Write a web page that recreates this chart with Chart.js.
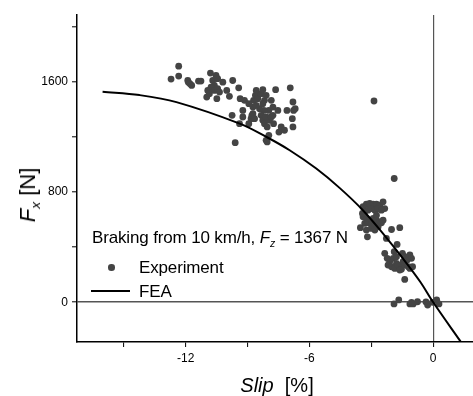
<!DOCTYPE html>
<html><head><meta charset="utf-8">
<script src="https://cdn.jsdelivr.net/npm/chart.js@4.4.1/dist/chart.umd.min.js"></script>
<style>
html,body{margin:0;padding:0;background:#fff;}
#wrap{position:relative;width:473px;height:396px;font-family:"Liberation Sans",Arial,sans-serif;overflow:hidden;}
canvas{position:absolute;left:0;top:0;}
.t{position:absolute;white-space:nowrap;color:#000;line-height:1;}
.sub{font-size:0.62em;position:relative;top:0.4em;font-style:italic;}
</style></head><body>
<div id="wrap">
<canvas id="c" width="473" height="396"></canvas>
<div class="t" style="left:92px;top:229px;font-size:17px;letter-spacing:-0.15px;">Braking from 10 km/h, <i>F</i><span class="sub">z</span> = 1367 N</div>
<div style="position:absolute;left:108px;top:264px;width:6.6px;height:6.6px;border-radius:50%;background:#444;"></div>
<div class="t" style="left:139px;top:259px;font-size:17px;letter-spacing:-0.15px;">Experiment</div>
<div style="position:absolute;left:91px;top:290px;width:39px;height:2px;background:#000;"></div>
<div class="t" style="left:139px;top:283px;font-size:17px;letter-spacing:-0.15px;">FEA</div>
<div class="t" style="left:277px;top:385px;font-size:20px;transform:translate(-50%,-50%);"><i>Slip</i>&nbsp; [%]</div>
<div class="t" style="left:28px;top:195px;font-size:22px;transform:translate(-50%,-50%) rotate(-90deg);"><i>F</i><span class="sub">x</span>&nbsp;[N]</div>
</div>
<script>
// Experiment data: slip [%] and Fx [N]
const expSlip = [
 -12.71,-12.34,-12.34,-11.90,-11.87,-11.79,-11.71,-11.38,-11.26,-10.80,
 -10.69,-10.53,-10.45,-10.61,-10.77,-10.93,-10.98,-10.85,-10.61,-10.45,
 -10.36,-10.49,-10.20,-10.01,-9.88,-9.72,-9.43,-9.36,-9.15,-9.75,
 -9.60,-9.39,-9.23,-9.23,-8.94,-8.83,-8.79,-8.74,-8.71,-8.62,
 -8.58,-8.50,-8.34,-8.26,-8.18,-8.10,-7.97,-7.85,-7.77,-7.64,
 -8.21,-8.42,-8.34,-8.26,-8.18,-8.05,-7.94,-7.74,-7.53,-7.48,
 -7.37,-7.21,-7.09,-6.93,-6.80,-6.77,-6.69,-6.83,-6.80,-8.10,
 -7.97,-8.05,-8.58,-8.74,-8.66,-8.94,-8.26,-8.10,-7.85,-7.77,
 -2.87,-1.89,
 -3.40,-3.24,-3.08,-2.91,-2.75,-2.59,-2.43,-2.35,-3.32,-3.16,
 -3.00,-2.83,-2.67,-2.51,-3.40,-3.24,-3.08,-2.91,-2.75,-2.59,
 -3.32,-3.16,-3.00,-2.83,-2.67,-2.51,-3.53,-3.24,-3.00,-2.83,
 -3.19,-2.43,-3.43,-2.75,
 -2.02,-1.62,-2.27,-1.75,-2.35,-2.23,-2.11,-1.94,-1.78,-1.62,
 -1.49,-1.38,-1.26,-1.13,-1.05,-1.00,-2.19,-2.02,-1.86,-1.70,
 -1.54,-1.38,-1.21,-1.13,-1.62,-1.38,-1.89,-1.78,-1.46,
 -1.90,-1.67,-1.13,-1.05,-0.97,-0.76,-0.35,-0.27,-0.03,0.17,0.28
];
const expForce = [
 1619,1713,1641,1609,1597,1585,1573,1605,1605,1663,
 1609,1646,1622,1573,1561,1537,1489,1513,1537,1549,
 1525,1477,1597,1537,1494,1609,1556,1477,1465,1356,
 1158,1296,1392,1344,1296,1332,1356,1416,1465,1501,
 1537,1477,1513,1542,1465,1501,1392,1465,1416,1542,
 1392,1404,1356,1320,1296,1272,1320,1296,1392,1235,
 1272,1248,1392,1556,1453,1392,1404,1332,1272,1175,
 1211,1163,1428,1368,1332,1441,1441,1344,1344,1356,
 1460,898,
 693,712,717,712,712,705,729,680,656,668,
 680,668,680,668,620,608,596,608,596,584,
 572,577,567,557,548,577,541,524,536,524,
 475,596,644,632,
 528,541,463,420,355,319,294,319,282,258,
 355,331,306,343,319,258,270,258,246,270,
 239,270,258,246,234,166,367,331,294,
 -12,17,-12,0,-12,4,2,-20,0,17,-12
];
// FEA curve
const feaSlip  = [-16.03,-14.24,-12.45,-9.38,-8.08,-6.96,-5.67,-4.54,-3.41,-2.44,-1.47,-0.63,0,1.34];
const feaForce = [1528,1503,1452,1296,1199,1103,970,830,668,500,318,149,0,-287];
// Axis ticks
const xTicks = [-15,-12,-9,-6,-3,0];
const xTickLabels = ['','-12','','-6','','0'];
const yTicks = [0,400,800,1200,1600,2000];
const yTickLabels = ['0','','800','','1600',''];

const tickFont = {family:'"Liberation Sans", Arial, sans-serif', size:12};
new Chart(document.getElementById('c').getContext('2d'), {
  type:'scatter',
  data:{datasets:[
    {label:'Experiment', data: expSlip.map((x,i)=>({x:x, y:expForce[i]})),
     pointRadius:3.4, pointBackgroundColor:'#444', pointBorderWidth:0, showLine:false, order:2},
    {label:'FEA', data: feaSlip.map((x,i)=>({x:x, y:feaForce[i]})),
     showLine:true, borderColor:'#000', borderWidth:2, pointRadius:0, tension:0.35, order:1}
  ]},
  options:{
    responsive:false, animation:false,
    layout:{autoPadding:false, padding:{top:15,right:0,left:0,bottom:0}},
    plugins:{legend:{display:false}, tooltip:{enabled:false}},
    scales:{
      x:{type:'linear', min:-17.27, max:1.93,
        afterBuildTicks:s=>{s.ticks = xTicks.map(v=>({value:v}));},
        afterFit:s=>{s.height = 54; s.paddingLeft = 0; s.paddingRight = 0;},
        border:{display:true,color:'#000',width:1.5},
        grid:{drawOnChartArea:true, color:c=>(c.tick && c.tick.value===0)?'#555':'rgba(0,0,0,0)', lineWidth:1.2, tickColor:'#000', tickWidth:1, tickLength:5},
        ticks:{callback:(v)=>{const i=xTicks.indexOf(v);return i<0?'':xTickLabels[i];}, font:tickFont, color:'#000', padding:4, maxRotation:0, autoSkip:false}
      },
      y:{type:'linear', min:-288, max:2084,
        afterBuildTicks:s=>{s.ticks = yTicks.map(v=>({value:v}));},
        afterFit:s=>{s.width = 77; s.paddingTop = 0; s.paddingBottom = 0;},
        border:{display:true,color:'#000',width:1.5},
        grid:{drawOnChartArea:true, color:c=>(c.tick && c.tick.value===0)?'#555':'rgba(0,0,0,0)', lineWidth:1.6, tickColor:'#000', tickWidth:1, tickLength:5},
        ticks:{callback:(v)=>{const i=yTicks.indexOf(v);return i<0?'':yTickLabels[i];}, font:tickFont, color:'#000', padding:4, autoSkip:false}
      }
    }
  }
});
</script>
</body></html>
